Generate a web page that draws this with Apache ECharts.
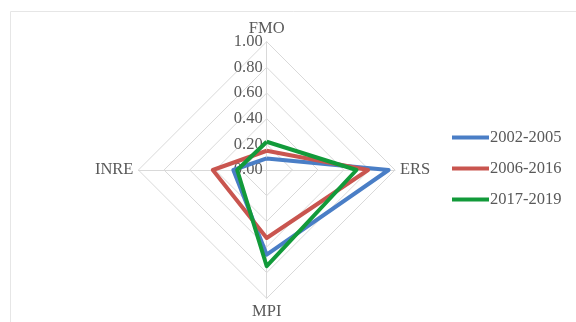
<!DOCTYPE html>
<html><head><meta charset="utf-8">
<script src="https://cdn.jsdelivr.net/npm/echarts@6/dist/echarts.min.js"></script>
<style>html,body{margin:0;padding:0;background:#fff}#c{width:576px;height:322px}</style>
</head><body><div id="c"></div>
<script>
// indicator order as drawn by ECharts (counter-clockwise from top): FMO, INRE, MPI, ERS
var indicators = ['FMO', 'INRE', 'MPI', 'ERS'];
var seriesNames = ['2002-2005', '2006-2016', '2017-2019'];
var s2002 = [0.09, 0.26, 0.66, 0.95];
var s2006 = [0.15, 0.42, 0.53, 0.79];
var s2017 = [0.22, 0.23, 0.75, 0.70];
var tickLabels = ['0.00', '0.20', '0.40', '0.60', '0.80', '1.00'];
var colors = ['#4A7EC6', '#C9554F', '#129A3A'];

var font = '"Liberation Serif", "Times New Roman", serif';
var cx = 266.7, cy = 170, r = 128.3;
var chart = echarts.init(document.getElementById('c'));
chart.setOption({
  animation: false,
  color: colors,
  graphic: [{ type: 'rect', shape: { x: 10.5, y: 11.5, width: 700, height: 400 }, style: { fill: 'none', stroke: '#e6e6e6', lineWidth: 1 }, silent: true }],
  legend: {
    orient: 'vertical', left: 452, top: 129, itemGap: 14, itemWidth: 37, itemHeight: 18, padding: 0,
    icon: 'path://M0,7.5 L37,7.5 L37,11.5 L0,11.5 Z',
    textStyle: { fontFamily: font, fontSize: 16.5, color: '#595959', padding: [0, 0, 0, -4] },
    data: seriesNames
  },
  grid: { left: cx, top: cy - r, width: 1, height: r },
  xAxis: { type: 'value', show: false },
  yAxis: {
    type: 'value', min: 0, max: 1, interval: 0.2,
    axisLine: { show: false }, axisTick: { show: false }, splitLine: { show: false },
    axisLabel: { margin: 4, fontFamily: font, fontSize: 16.5, color: '#595959',
      formatter: function (v) { return tickLabels[Math.round(v / 0.2)]; } }
  },
  radar: {
    center: [cx, cy], radius: r, shape: 'polygon', splitNumber: 5, startAngle: 90,
    axisName: { fontFamily: font, fontSize: 16.5, color: '#595959' },
    nameGap: 5,
    indicator: indicators.map(function (n) { return { name: n, min: 0, max: 1 }; }),
    axisLine: { lineStyle: { color: '#d9d9d9', width: 1 } },
    splitLine: { lineStyle: { color: '#d9d9d9', width: 1 } },
    splitArea: { show: false },
    axisTick: { show: false },
    axisLabel: { show: false }
  },
  series: [{
    type: 'radar', symbol: 'none',
    data: [
      { name: seriesNames[0], value: s2002, lineStyle: { color: colors[0], width: 4 } },
      { name: seriesNames[1], value: s2006, lineStyle: { color: colors[1], width: 4 } },
      { name: seriesNames[2], value: s2017, lineStyle: { color: colors[2], width: 4 } }
    ]
  }]
});
</script></body></html>
